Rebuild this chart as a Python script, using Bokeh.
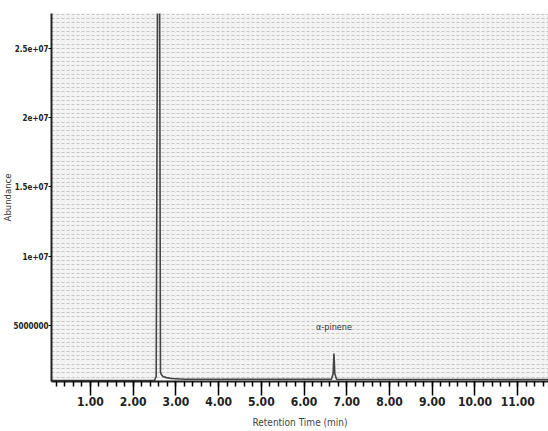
from bokeh.plotting import figure
from bokeh.models import Range1d, FixedTicker, SingleIntervalTicker, ColumnDataSource, Label
from bokeh.core.properties import value
from bokeh.embed import file_html
from bokeh.resources import INLINE

# chromatogram trace (retention time in min, abundance)
time = [0.09, 2.50, 2.54, 2.57, 2.62, 2.64, 2.66, 2.70, 2.78, 2.90, 3.20, 6.64, 6.68, 6.70, 6.72, 6.76, 11.72]
abundance = [1.00e6, 1.02e6, 1.3e6, 2.9e7, 2.9e7, 1.6e6, 1.45e6, 1.30e6, 1.22e6, 1.16e6, 1.10e6, 1.10e6, 1.5e6, 2.97e6, 1.5e6, 1.10e6, 1.08e6]

peak_names = ["α-pinene"]
peak_times = [6.70]
peak_label_y = [4.55e6]

y_ticks = [5e6, 1e7, 1.5e7, 2e7, 2.5e7]
y_tick_labels = ["5000000", "1e+07", "1.5e+07", "2e+07", "2.5e+07"]
x_ticks = [1, 2, 3, 4, 5, 6, 7, 8, 9, 10, 11]
x_tick_labels = ["1.00", "2.00", "3.00", "4.00", "5.00", "6.00", "7.00", "8.00", "9.00", "10.00", "11.00"]

p = figure(width=548, height=431, output_backend="svg", toolbar_location=None,
           x_range=Range1d(0.09, 11.72), y_range=Range1d(0.94e6, 2.754e7),
           min_border_left=50, min_border_right=0, min_border_top=13, min_border_bottom=50)
p.outline_line_color = None
p.background_fill_color = "#f4f4f4"
p.border_fill_color = "white"

# scanned-paper dotted texture
p.ygrid.ticker = SingleIntervalTicker(interval=312500)
p.ygrid.grid_line_color = "#c6c6c6"
p.ygrid.grid_line_dash = "3 2"
p.ygrid.grid_line_width = 1
p.xgrid.ticker = SingleIntervalTicker(interval=0.1)
p.xgrid.grid_line_color = "#e4e4e4"
p.xgrid.grid_line_dash = "1 3"

p.line(time, abundance, line_color="#444444", line_width=1.6)

src = ColumnDataSource(dict(x=peak_times, y=peak_label_y, t=peak_names))
p.text(x="x", y="y", text="t", source=src, text_align="center", text_baseline="bottom",
       text_font=value("DejaVu Sans Condensed"), text_font_size="9px", text_color="#333333")

ya = p.yaxis[0]
ya.ticker = FixedTicker(ticks=y_ticks)
ya.major_label_overrides = {t: l for t, l in zip(y_ticks, y_tick_labels)}
ya.axis_line_width = 2
ya.axis_line_color = "#222222"
ya.major_tick_out = 3
ya.major_tick_in = 0
ya.minor_tick_out = 0
ya.minor_tick_in = 0
ya.major_label_text_font = "DejaVu Sans Condensed"
ya.major_label_text_font_style = "bold"
ya.major_label_text_font_size = "8px"
ya.major_label_text_color = "#222222"
ya.major_label_standoff = 0
ya.axis_label = "Abundance"
ya.axis_label_text_font = "DejaVu Sans"
ya.axis_label_text_font_style = "normal"
ya.axis_label_text_font_size = "8.5px"
ya.axis_label_text_color = "#333333"
ya.axis_label_standoff = -3

xa = p.xaxis[0]
xa.ticker = FixedTicker(ticks=x_ticks, minor_ticks=[i / 5 for i in range(1, 59)])
xa.major_label_overrides = {t: l for t, l in zip(x_ticks, x_tick_labels)}
xa.axis_line_width = 2
xa.axis_line_color = "#222222"
xa.major_tick_out = 14
xa.major_tick_in = 0
xa.major_tick_line_width = 1.5
xa.minor_tick_out = 5
xa.minor_tick_in = 0
xa.minor_tick_line_width = 1.5
xa.major_label_text_font = "DejaVu Sans Condensed"
xa.major_label_text_font_style = "bold"
xa.major_label_text_font_size = "12px"
xa.major_label_text_color = "#222222"
xa.major_label_standoff = 1
xa.axis_label = "Retention Time (min)"
xa.axis_label_text_font = "DejaVu Sans Condensed"
xa.axis_label_text_font_style = "normal"
xa.axis_label_text_font_size = "10px"
xa.axis_label_standoff = 8

try:
    lab = Label(x=20, y=24, x_units="canvas", y_units="canvas", text="Time-->",
                text_font_size="7px", text_color="#555555", text_font="DejaVu Sans Condensed")
    p.add_layout(lab)
except Exception:
    pass

open("out.html", "w").write(file_html(p, INLINE))
